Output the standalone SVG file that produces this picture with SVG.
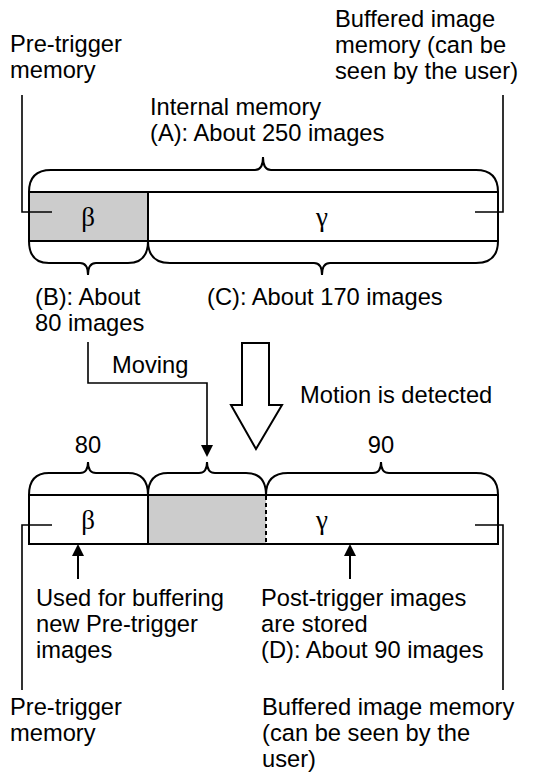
<svg xmlns="http://www.w3.org/2000/svg" width="541" height="780" viewBox="0 0 541 780">
<style>
text{font-family:"Liberation Sans",Arial,sans-serif;font-size:23.7px;fill:#000}
.g{font-family:"Liberation Serif","Times New Roman",serif;font-size:27px;text-anchor:middle}
.ln{fill:none;stroke:#000;stroke-width:2}
.thin{fill:none;stroke:#000;stroke-width:1.6}
</style>
<rect width="541" height="780" fill="#fff"/>

<g id="top-bar">
<rect x="29" y="192" width="119" height="49" fill="#ccc"/>
<rect x="29" y="192" width="469" height="49" class="ln"/>
<line x1="148" y1="192" x2="148" y2="241" class="ln"/>
<text x="88" y="226" class="g">β</text>
<text x="322" y="226" class="g">γ</text>
</g>

<g id="top-braces">
<path class="ln" d="M29,192 Q29,170 51,170 L255,170 Q263,170 263,157 Q263,170 271,170 L476,170 Q498,170 498,192"/>
<path class="ln" d="M29,241 Q29,263 49,263 L80,263 Q88,263 88,275 Q88,263 96,263 L128,263 Q148,263 148,241"/>
<path class="ln" d="M148,241 Q148,263 170,263 L314,263 Q322,263 322,275 Q322,263 330,263 L476,263 Q498,263 498,241"/>
</g>

<g id="top-labels">
<text x="10" y="52">Pre-trigger</text>
<text x="10" y="78">memory</text>
<text x="335" y="27">Buffered image</text>
<text x="335" y="53">memory (can be</text>
<text x="335" y="79">seen by the user)</text>
<text x="150" y="115">Internal memory</text>
<text x="150" y="141">(A): About 250 images</text>
<text x="35" y="305">(B): About</text>
<text x="35" y="331">80 images</text>
<text x="207" y="305">(C): About 170 images</text>
</g>

<g id="connectors">
<polyline class="thin" points="22,95 22,212 52,212"/>
<polyline class="thin" points="503,95 503,212 475,212"/>
<polyline class="thin" points="88,342 88,383 207,383 207,447"/>
<path d="M201,445 L213,445 L207,457 Z" fill="#000"/>
<polyline class="thin" points="22,690 22,525 52,525"/>
<polyline class="thin" points="503,690 503,525 475,525"/>
<line class="ln" x1="78" y1="579" x2="78" y2="554"/>
<path d="M72,556 L84,556 L78,544 Z" fill="#000"/>
<line class="ln" x1="350" y1="579" x2="350" y2="554"/>
<path d="M344,556 L356,556 L350,544 Z" fill="#000"/>
</g>

<g id="motion-arrow">
<path class="ln" fill="#fff" d="M242,343 L269,343 L269,405 L282,405 L256,449 L231,405 L242,405 Z"/>
</g>

<g id="middle-labels">
<text x="112" y="373">Moving</text>
<text x="300" y="403">Motion is detected</text>
<text x="88" y="453" text-anchor="middle">80</text>
<text x="381" y="453" text-anchor="middle">90</text>
</g>

<g id="bottom-braces">
<path class="ln" d="M29,495 Q29,473 49,473 L80,473 Q88,473 88,462 Q88,473 96,473 L128,473 Q148,473 148,495"/>
<path class="ln" d="M148,495 Q148,473 168,473 L199,473 Q207,473 207,462 Q207,473 215,473 L246,473 Q266,473 266,495"/>
<path class="ln" d="M266,495 Q266,473 288,473 L373,473 Q381,473 381,462 Q381,473 389,473 L476,473 Q498,473 498,495"/>
</g>

<g id="bottom-bar">
<rect x="148" y="495" width="118" height="49" fill="#ccc"/>
<polyline class="ln" points="266,495 29,495 29,544 266,544"/>
<polyline class="ln" points="266,495 498,495 498,544 266,544"/>
<line x1="148" y1="495" x2="148" y2="544" class="ln"/>
<line x1="266" y1="496" x2="266" y2="543" class="ln" stroke-dasharray="4,3"/>
<text x="88" y="529" class="g">β</text>
<text x="322" y="529" class="g">γ</text>
</g>

<g id="bottom-labels">
<text x="36" y="606">Used for buffering</text>
<text x="36" y="632">new Pre-trigger</text>
<text x="36" y="658">images</text>
<text x="261" y="606">Post-trigger images</text>
<text x="261" y="632">are stored</text>
<text x="261" y="658">(D): About 90 images</text>
<text x="10" y="715">Pre-trigger</text>
<text x="10" y="741">memory</text>
<text x="262" y="715">Buffered image memory</text>
<text x="262" y="741">(can be seen by the</text>
<text x="262" y="767">user)</text>
</g>
</svg>
